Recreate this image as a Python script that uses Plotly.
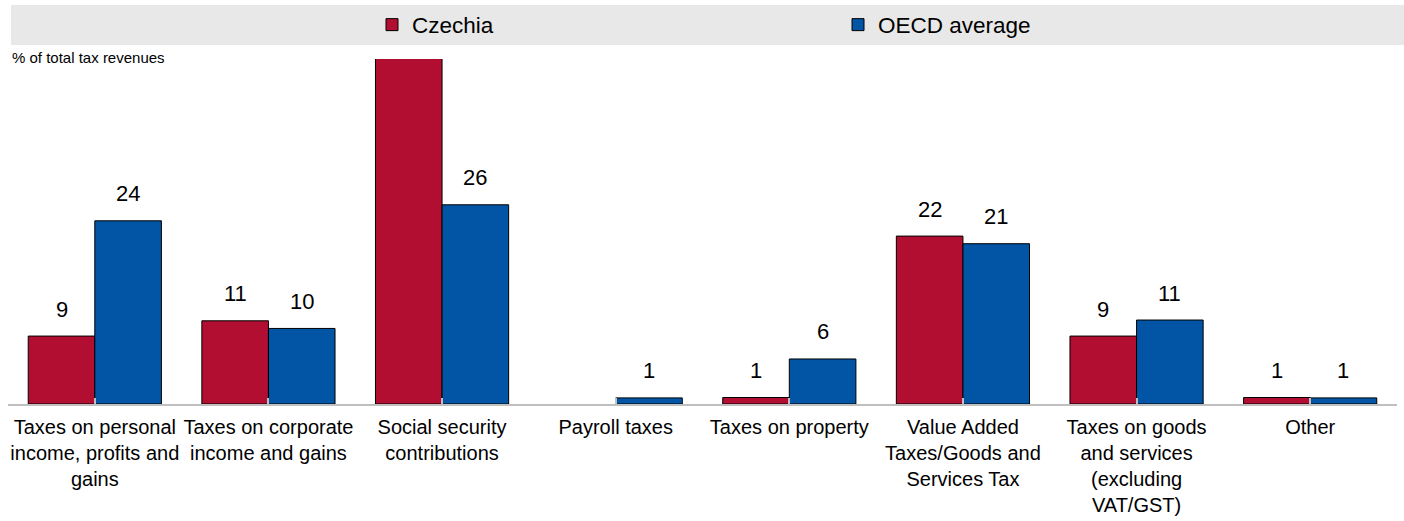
import plotly.graph_objects as go

categories = [
    "Taxes on personal<br>income, profits and<br>gains",
    "Taxes on corporate<br>income and gains",
    "Social security<br>contributions",
    "Payroll taxes",
    "Taxes on property",
    "Value Added<br>Taxes/Goods and<br>Services Tax",
    "Taxes on goods<br>and services<br>(excluding<br>VAT/GST)",
    "Other",
]
czechia = [8.9, 10.9, 45.4, 0.0, 0.85, 22.0, 8.9, 0.85]
oecd = [24.0, 9.9, 26.1, 0.8, 5.9, 21.0, 11.0, 0.8]
series_names = ["Czechia", "OECD average"]
colors = ["#B10E31", "#0254A5"]
y_max = 45.2

FONT = "Liberation Sans, Arial, sans-serif"

W, H = 1404, 521
ml, mr, mt, mb = 8, 7, 59, 117
bargap = 0.233

fig = go.Figure()
for name, vals, col in zip(series_names, [czechia, oecd], colors):
    fig.add_trace(go.Bar(
        name=name, x=list(range(len(categories))), y=vals,
        marker=dict(color=col,
                    line=dict(color="#000000", width=[1 if v > 0 else 0 for v in vals])),
        cliponaxis=True,
    ))

# data labels
half = (1 - bargap) / 4
for k, vals in enumerate([czechia, oecd]):
    off = -half if k == 0 else half
    for i, v in enumerate(vals):
        if v <= 0 or v >= y_max:
            continue
        fig.add_annotation(
            x=i + off, y=v, xref="x", yref="y",
            text=str(int(round(v))), showarrow=False,
            yanchor="middle", yshift=27,
            font=dict(family=FONT, size=22, color="#000000"),
        )

pw = W - ml - mr
ph = H - mt - mb
# legend band
fig.add_shape(type="rect", xref="paper", yref="paper",
              x0=(11 - ml) / pw, x1=(W - ml) / pw,
              y0=(H - mb - 45) / ph, y1=(H - mb - 5) / ph,
              fillcolor="#E8E8E8", line=dict(width=0), layer="below")

fig.add_annotation(
    x=(10 - ml) / pw, y=(H - mb - 57) / ph, xref="paper", yref="paper",
    xanchor="left", yanchor="middle", showarrow=False,
    text="% of total tax revenues",
    font=dict(family=FONT, size=15, color="#000000"),
)

fig.update_layout(
    width=W, height=H,
    margin=dict(l=ml, r=mr, t=mt, b=mb, pad=0, autoexpand=False),
    paper_bgcolor="white", plot_bgcolor="white",
    barmode="group", bargap=bargap, bargroupgap=0,
    showlegend=True,
    legend=dict(
        orientation="h", x=(372 - ml) / pw, xanchor="left",
        y=(H - mb - 25) / ph, yanchor="middle",
        bgcolor="rgba(0,0,0,0)", entrywidth=421, entrywidthmode="pixels",
        font=dict(family=FONT, size=22.5, color="#000000"),
        traceorder="normal",
    ),
    xaxis=dict(
        tickmode="array", tickvals=list(range(len(categories))), ticktext=categories,
        tickangle=0, automargin=False,
        range=[-0.5, len(categories) - 0.5],
        showline=True, linecolor="#BFBFBF", linewidth=2,
        ticks="inside", ticklen=6, tickcolor="#BFBFBF", tickwidth=2,
        tickson="boundaries", ticklabelstandoff=4,
        showgrid=False, zeroline=False,
        tickfont=dict(family=FONT, size=20, color="#000000"),
    ),
    yaxis=dict(range=[0, y_max], showgrid=False, zeroline=False,
               showticklabels=False, showline=False, ticks="", automargin=False),
)

fig.write_html("out.html")
